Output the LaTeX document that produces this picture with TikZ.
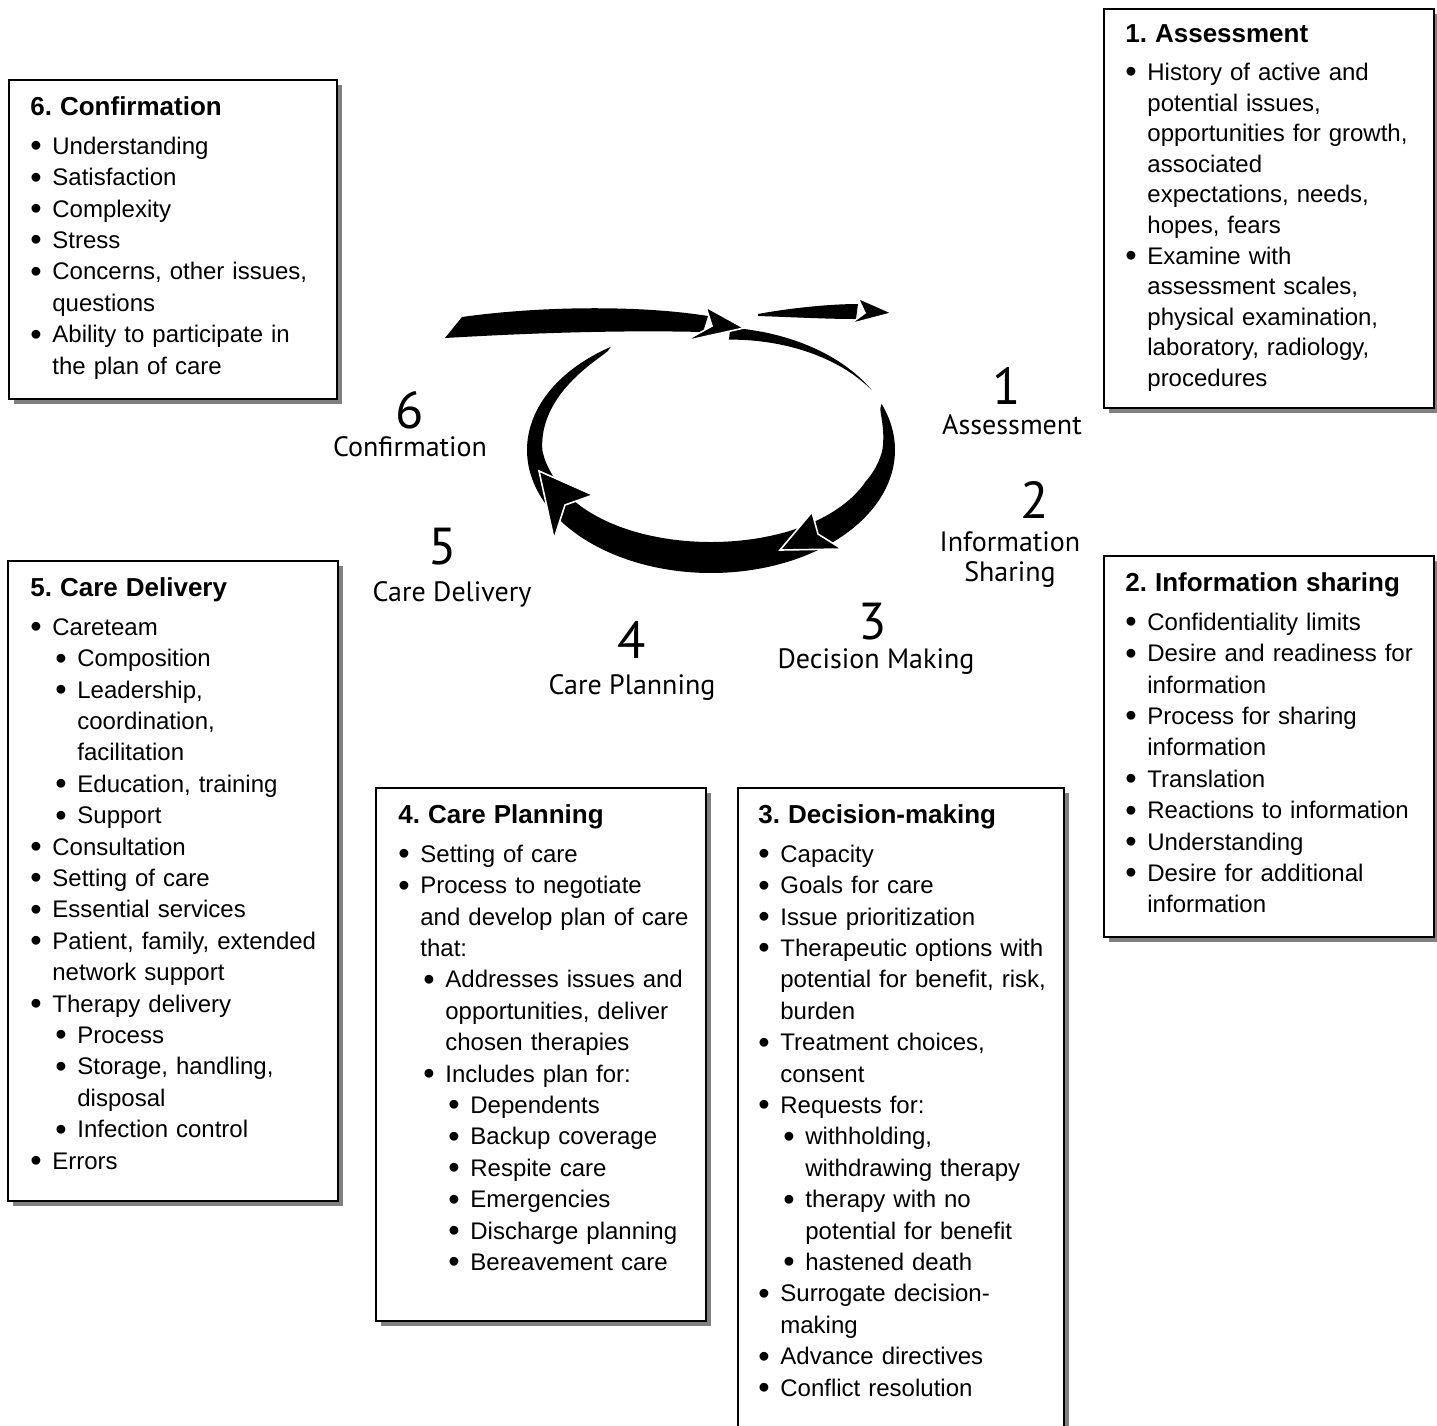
\documentclass[tikz,border=0pt]{standalone}
\usepackage{fontspec}
\usepackage{graphicx}
\setmainfont{Liberation Sans}
\newfontfamily\cyclefont{PT Sans}
\usetikzlibrary{shadows,positioning}
\frenchspacing

% one bullet line of a panel: optional level, then the text
\newcommand{\bul}[2][0]{\par\noindent\hangindent=\dimexpr12.5pt*#1+11pt\relax\hangafter=1%
  \hspace*{\dimexpr12.5pt*#1\relax}\makebox[11pt][l]{\raisebox{-1.2pt}{\scalebox{1.35}{\textbullet}}}#2}
\newcommand{\paneltitle}[1]{{\fontsize{13}{15.7}\selectfont\bfseries #1\par}\vspace{3.8pt}}

\begin{document}
\begin{tikzpicture}[x=0.5pt, y=-0.5pt,
    panel/.style={draw, line width=1pt, fill=white, anchor=north west, inner sep=0pt,
      drop shadow={shadow xshift=2.5pt, shadow yshift=-2.5pt, fill=black!50, opacity=1}},
    panel text/.style={anchor=north west, inner sep=0pt, text width=155pt, align=left,
      font=\fontsize{12}{15.7}\selectfont\setlength{\parskip}{0pt}},
    cycnum/.style={font=\cyclefont\fontsize{26}{26}\selectfont, inner sep=0pt},
    cycname/.style={font=\cyclefont\fontsize{14}{15}\selectfont, align=center, inner sep=0pt},
    arrowhd/.style={fill=black, draw=white, line width=0.8pt},
    declare function={bw(\t)=(17+14*max(0,sin(\t)))*sqrt(max(0,min(1,(\t-338)/40)))*sqrt(max(0,min(1,(597-\t)/70)));
      ta(\t)=12*max(0,(331-\t)/55);}]

  \useasboundingbox (0,0) rectangle (1437,1426);

  % the cycle in the middle
  \fill plot[domain=338:597, samples=150, variable=\t] ({711+184*cos(\t)}, {450+123*sin(\t)})
    -- plot[domain=597:338, samples=150, variable=\t] ({711+(184-bw(\t))*cos(\t)}, {450+(123-bw(\t))*sin(\t)}) -- cycle;
  \fill plot[domain=276:331, samples=60, variable=\t] ({711+184*cos(\t)}, {450+123*sin(\t)})
    -- plot[domain=331:276, samples=60, variable=\t] ({711+(184-ta(\t))*cos(\t)}, {450+(123-ta(\t))*sin(\t)}) -- cycle;

  % the arrow into the cycle and the one out of it
  \fill (462,317) .. controls (540,306) and (640,305) .. (708,316) -- (703,332) .. controls (620,330) and (530,333) .. (445,338) -- cycle;
  \fill (758,314) .. controls (790,308) and (830,304) .. (858,304) -- (856,319) .. controls (825,319) and (790,317) .. (758,316) -- cycle;

  % arrow heads
  \filldraw[arrowhd] (706,307) -- (744,328) -- (685,341) -- (712,326) -- cycle;
  \filldraw[arrowhd] (858,298) -- (892,313) -- (850,324) -- (865,313) -- cycle;
  \filldraw[arrowhd] (780,550) -- (812,512) -- (818,534) -- (842,549) -- cycle;
  \filldraw[arrowhd] (539,471) -- (593,495) -- (565,505) -- (554,539) -- cycle;

  % the step labels round the cycle
  \node[cycnum] (num1) at (1007,386) {1};
  \node[cycname] (name1) at (1012,425) {Assessment};
  \node[cycnum] (num2) at (1035,500) {2};
  \node[cycname] (name2) at (1010,560) {Information\\Sharing};
  \node[cycnum] (num3) at (873,622) {3};
  \node[cycname] (name3) at (876,662) {Decision Making};
  \node[cycnum] (num4) at (632,640) {4};
  \node[cycname] (name4) at (632,687) {Care Planning};
  \node[cycnum] (num5) at (443,547) {5};
  \node[cycname] (name5) at (452,594) {Care Delivery};
  \node[cycnum] (num6) at (410,410) {6};
  \node[cycname] (name6) at (410,447) {Confirmation};

  % the panels
  \node[panel, minimum width=164pt, minimum height=159.5pt] (confirmBox) at (8,79) {};
  \node[panel text] (confirmText) at ([xshift=11pt,yshift=-8.5pt]confirmBox.north west) {%
    \paneltitle{6. Confirmation}
    \bul{Understanding}
    \bul{Satisfaction}
    \bul{Complexity}
    \bul{Stress}
    \bul{Concerns, other issues,\newline questions}
    \bul{Ability to participate in\newline the plan of care}\par};

  \node[panel, minimum width=165pt, minimum height=199.5pt] (assessBox) at (1103,8) {};
  \node[panel text, font=\fontsize{12}{15.3}\selectfont] (assessText) at ([xshift=11pt,yshift=-8pt]assessBox.north west) {%
    \paneltitle{1. Assessment}
    \bul{History of active and\newline potential issues,\newline opportunities for growth,\newline associated\newline expectations, needs,\newline hopes, fears}
    \bul{Examine with\newline assessment scales,\newline physical examination,\newline laboratory, radiology,\newline procedures}\par};

  \node[panel, minimum width=165pt, minimum height=190.5pt] (infoBox) at (1103,555) {};
  \node[panel text] (infoText) at ([xshift=11pt,yshift=-8.5pt]infoBox.north west) {%
    \paneltitle{2. Information sharing}
    \bul{Confidentiality limits}
    \bul{Desire and readiness for\newline information}
    \bul{Process for sharing\newline information}
    \bul{Translation}
    \bul{Reactions to information}
    \bul{Understanding}
    \bul{Desire for additional\newline information}\par};

  \node[panel, minimum width=165pt, minimum height=320pt] (deliveryBox) at (7,560) {};
  \node[panel text] (deliveryText) at ([xshift=11.5pt,yshift=-8.5pt]deliveryBox.north west) {%
    \paneltitle{5. Care Delivery}
    \bul{Careteam}
    \bul[1]{Composition}
    \bul[1]{Leadership,\newline coordination,\newline facilitation}
    \bul[1]{Education, training}
    \bul[1]{Support}
    \bul{Consultation}
    \bul{Setting of care}
    \bul{Essential services}
    \bul{Patient, family, extended\newline network support}
    \bul{Therapy delivery}
    \bul[1]{Process}
    \bul[1]{Storage, handling,\newline disposal}
    \bul[1]{Infection control}
    \bul{Errors}\par};

  \node[panel, minimum width=165pt, minimum height=266.5pt] (planBox) at (375,787) {};
  \node[panel text] (planText) at ([xshift=11.5pt,yshift=-8.5pt]planBox.north west) {%
    \paneltitle{4. Care Planning}
    \bul{Setting of care}
    \bul{Process to negotiate\newline and develop plan of care\newline that:}
    \bul[1]{Addresses issues and\newline opportunities, deliver\newline chosen therapies}
    \bul[1]{Includes plan for:}
    \bul[2]{Dependents}
    \bul[2]{Backup coverage}
    \bul[2]{Respite care}
    \bul[2]{Emergencies}
    \bul[2]{Discharge planning}
    \bul[2]{Bereavement care}\par};

  \node[panel, minimum width=163pt, minimum height=350pt] (decideBox) at (737,787) {};
  \node[panel text] (decideText) at ([xshift=10.5pt,yshift=-8.5pt]decideBox.north west) {%
    \paneltitle{3. Decision-making}
    \bul{Capacity}
    \bul{Goals for care}
    \bul{Issue prioritization}
    \bul{Therapeutic options with\newline potential for benefit, risk,\newline burden}
    \bul{Treatment choices,\newline consent}
    \bul{Requests for:}
    \bul[1]{withholding,\newline withdrawing therapy}
    \bul[1]{therapy with no\newline potential for benefit}
    \bul[1]{hastened death}
    \bul{Surrogate decision-\newline making}
    \bul{Advance directives}
    \bul{Conflict resolution}\par};

\end{tikzpicture}
\end{document}
